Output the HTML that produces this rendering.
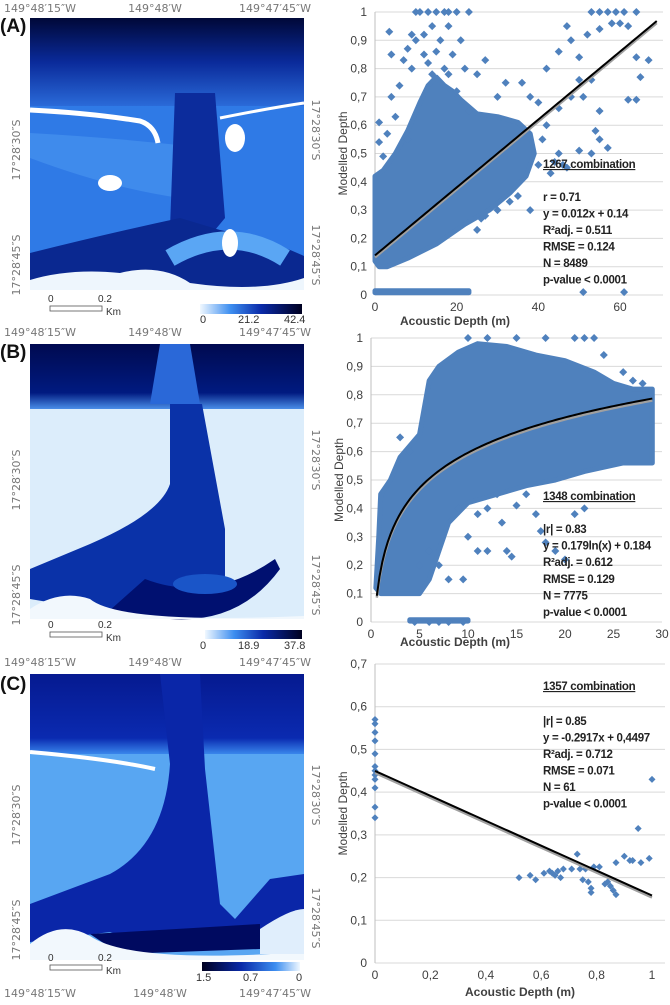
<!DOCTYPE html>
<html><head><meta charset="utf-8"><style>
html,body{margin:0;padding:0;background:#fff;}
svg text{font-family:"Liberation Sans",sans-serif;}
.tk{font-size:12px;fill:#404040;}
.st{font-size:11.5px;font-weight:bold;fill:#222;letter-spacing:-0.3px;}
.ml{font-family:"DejaVu Sans",sans-serif !important;font-size:11px;fill:#777;}
</style></head><body>
<svg id="fig" width="670" height="1000" viewBox="0 0 670 1000" xmlns="http://www.w3.org/2000/svg">
<defs>
<linearGradient id="cbA" x1="0" x2="1"><stop offset="0" stop-color="#f0f8ff"/><stop offset="0.3" stop-color="#3d8ef0"/><stop offset="0.6" stop-color="#0a2aa8"/><stop offset="1" stop-color="#000020"/></linearGradient>
<linearGradient id="cbC" x1="0" x2="1"><stop offset="0" stop-color="#000020"/><stop offset="0.4" stop-color="#0a2aa8"/><stop offset="0.75" stop-color="#3d8ef0"/><stop offset="1" stop-color="#f0f8ff"/></linearGradient>
<linearGradient id="topA" x1="0" y1="0" x2="0" y2="1"><stop offset="0" stop-color="#000838"/><stop offset="0.5" stop-color="#0a2a9a"/><stop offset="1" stop-color="#2a6ad8"/></linearGradient>
<linearGradient id="topB" x1="0" y1="0" x2="0" y2="1"><stop offset="0" stop-color="#000a50"/><stop offset="0.75" stop-color="#001a80"/><stop offset="1" stop-color="#4a8ee8"/></linearGradient>
<linearGradient id="topC" x1="0" y1="0" x2="0" y2="1"><stop offset="0" stop-color="#061a90"/><stop offset="0.8" stop-color="#0a2ab0"/><stop offset="1" stop-color="#3a86ec"/></linearGradient>
</defs>

<!-- MAP A -->
<g>
<text x="0" y="32" font-size="19" font-weight="bold" fill="#111">(A)</text>
<text class="ml" x="40" y="12" text-anchor="middle">149°48′15″W</text>
<text class="ml" x="155" y="12" text-anchor="middle">149°48′W</text>
<text class="ml" x="275" y="12" text-anchor="middle">149°47′45″W</text>
<g transform="translate(30,18)">
<rect width="274" height="272" fill="#2f7ae6"/>
<rect width="274" height="88" fill="url(#topA)"/>
<path d="M0,140 Q80,170 150,180 L175,165 L175,130 Q90,120 0,115Z" fill="#4b96f0" opacity="0.6"/>
<path d="M145,75 L185,75 L195,200 L170,230 L140,210 Z" fill="#0c2c9c"/>
<path d="M0,235 Q80,215 150,200 L190,212 Q240,222 274,238 L274,272 L0,272 Z" fill="#0a2890"/>
<path d="M140,240 Q200,205 255,240" stroke="#5aa6f4" stroke-width="18" fill="none"/>
<path d="M0,92 Q60,95 110,103 Q125,108 128,125" stroke="#fff" stroke-width="5" fill="none"/>
<path d="M190,100 Q240,90 274,85" stroke="#fff" stroke-width="3" fill="none"/>
<ellipse cx="205" cy="120" rx="10" ry="14" fill="#fff"/>
<ellipse cx="200" cy="225" rx="8" ry="14" fill="#fff"/>
<ellipse cx="80" cy="165" rx="12" ry="8" fill="#fff"/>
<path d="M0,262 Q40,250 90,255 Q130,245 160,265 Q230,275 274,260 L274,272 L0,272 Z" fill="#eef6fd"/>
</g>
<text class="ml" transform="translate(20,150) rotate(-90)" text-anchor="middle">17°28′30″S</text>
<text class="ml" transform="translate(20,265) rotate(-90)" text-anchor="middle">17°28′45″S</text>
<text class="ml" transform="translate(312,130) rotate(90)" text-anchor="middle">17°28′30″S</text>
<text class="ml" transform="translate(312,255) rotate(90)" text-anchor="middle">17°28′45″S</text>
<rect x="50" y="306" width="52" height="5" fill="none" stroke="#555" stroke-width="0.8"/>
<text x="48" y="302" font-size="10" font-family="Liberation Serif" fill="#333">0</text>
<text x="98" y="302" font-size="10" font-family="Liberation Serif" fill="#333">0.2</text>
<text x="106" y="315" font-size="10" font-family="Liberation Serif" fill="#333">Km</text>
<rect x="200" y="304" width="102" height="10" fill="url(#cbA)"/>
<text x="200" y="323" font-size="11" font-family="Liberation Serif" fill="#333">0</text>
<text x="238" y="323" font-size="11" font-family="Liberation Serif" fill="#333">21.2</text>
<text x="284" y="323" font-size="11" font-family="Liberation Serif" fill="#333">42.4</text>
</g>

<!-- MAP B -->
<g>
<text x="0" y="358" font-size="19" font-weight="bold" fill="#111">(B)</text>
<text class="ml" x="40" y="336" text-anchor="middle">149°48′15″W</text>
<text class="ml" x="155" y="336" text-anchor="middle">149°48′W</text>
<text class="ml" x="275" y="336" text-anchor="middle">149°47′45″W</text>
<g transform="translate(30,344)">
<rect width="274" height="275" fill="#dcedfb"/>
<rect width="274" height="65" fill="url(#topB)"/>
<path d="M130,0 L160,0 L170,60 L120,60 Z" fill="#2a68d8"/>
<path d="M140,60 L172,60 L195,185 L195,235 L150,255 L110,275 L60,265 L0,255 L0,225 L60,200 Q130,170 140,140 Z" fill="#0a32a8"/>
<path d="M115,235 Q180,260 245,215 L250,225 Q210,280 140,275 L70,275 Z" fill="#001070"/>
<ellipse cx="175" cy="240" rx="32" ry="10" fill="#1a55c8"/>
<path d="M0,265 Q30,245 60,255 Q90,280 274,272 L274,275 L0,275 Z" fill="#f2f8fd"/>
</g>
<text class="ml" transform="translate(20,480) rotate(-90)" text-anchor="middle">17°28′30″S</text>
<text class="ml" transform="translate(20,595) rotate(-90)" text-anchor="middle">17°28′45″S</text>
<text class="ml" transform="translate(312,460) rotate(90)" text-anchor="middle">17°28′30″S</text>
<text class="ml" transform="translate(312,585) rotate(90)" text-anchor="middle">17°28′45″S</text>
<rect x="50" y="632" width="52" height="5" fill="none" stroke="#555" stroke-width="0.8"/>
<text x="48" y="628" font-size="10" font-family="Liberation Serif" fill="#333">0</text>
<text x="98" y="628" font-size="10" font-family="Liberation Serif" fill="#333">0.2</text>
<text x="106" y="641" font-size="10" font-family="Liberation Serif" fill="#333">Km</text>
<rect x="205" y="630" width="97" height="9" fill="url(#cbA)"/>
<text x="200" y="649" font-size="11" font-family="Liberation Serif" fill="#333">0</text>
<text x="238" y="649" font-size="11" font-family="Liberation Serif" fill="#333">18.9</text>
<text x="284" y="649" font-size="11" font-family="Liberation Serif" fill="#333">37.8</text>
</g>

<!-- MAP C -->
<g>
<text x="0" y="690" font-size="19" font-weight="bold" fill="#111">(C)</text>
<text class="ml" x="40" y="666" text-anchor="middle">149°48′15″W</text>
<text class="ml" x="155" y="666" text-anchor="middle">149°48′W</text>
<text class="ml" x="275" y="666" text-anchor="middle">149°47′45″W</text>
<g transform="translate(30,674)">
<rect width="274" height="286" fill="#58a6f2"/>
<rect width="274" height="80" fill="url(#topC)"/>
<path d="M0,78 Q80,85 125,95" stroke="#fff" stroke-width="4" fill="none"/>
<path d="M130,0 L170,0 L175,95 L190,230 L205,245 L240,205 L274,200 L274,260 L200,275 L120,272 L80,258 L0,268 L0,230 L80,200 Q135,170 140,90 Z" fill="#0a26a8"/>
<path d="M60,260 Q150,255 230,250 L230,275 L90,280 Z" fill="#000a60"/>
<path d="M0,270 Q30,245 60,262 Q100,290 274,278 L274,286 L0,286 Z" fill="#f2f8fd"/>
<path d="M230,255 Q260,235 274,235 L274,280 L230,280Z" fill="#e0eefc"/>
</g>
<text class="ml" transform="translate(20,815) rotate(-90)" text-anchor="middle">17°28′30″S</text>
<text class="ml" transform="translate(20,930) rotate(-90)" text-anchor="middle">17°28′45″S</text>
<text class="ml" transform="translate(312,795) rotate(90)" text-anchor="middle">17°28′30″S</text>
<text class="ml" transform="translate(312,918) rotate(90)" text-anchor="middle">17°28′45″S</text>
<rect x="50" y="965" width="52" height="5" fill="none" stroke="#555" stroke-width="0.8"/>
<text x="48" y="961" font-size="10" font-family="Liberation Serif" fill="#333">0</text>
<text x="98" y="961" font-size="10" font-family="Liberation Serif" fill="#333">0.2</text>
<text x="106" y="974" font-size="10" font-family="Liberation Serif" fill="#333">Km</text>
<rect x="202" y="962" width="98" height="9" fill="url(#cbC)"/>
<text x="196" y="981" font-size="11" font-family="Liberation Serif" fill="#333">1.5</text>
<text x="243" y="981" font-size="11" font-family="Liberation Serif" fill="#333">0.7</text>
<text x="296" y="981" font-size="11" font-family="Liberation Serif" fill="#333">0</text>
<text class="ml" x="40" y="997" text-anchor="middle">149°48′15″W</text>
<text class="ml" x="160" y="997" text-anchor="middle">149°48′W</text>
<text class="ml" x="275" y="997" text-anchor="middle">149°47′45″W</text>
</g>
<g id="charts"></g>
</svg>
<script>
// ---- Chart A data ----
const yTicksA = [0,0.1,0.2,0.3,0.4,0.5,0.6,0.7,0.8,0.9,1];
const xTicksA = [0,20,40,60];
const cloudA = [[0,0.12],[0,0.42],[2,0.44],[5,0.5],[8,0.58],[11,0.68],[13,0.74],[15,0.77],[17,0.74],[19,0.72],[21,0.69],[25,0.64],[30,0.63],[35,0.61],[38,0.57],[39,0.5],[37,0.42],[33,0.36],[28,0.3],[22,0.25],[15,0.18],[8,0.13],[3,0.1],[1,0.1]];
const bandA = [[0,0.008],[0,0.015],[23,0.015],[23,0.008]];
const pointsA = [[3.5,0.93],[4,0.85],[4,0.7],[6,0.74],[8,0.87],[9,0.92],[10,1],[11,1],[13,1],[15,1],[17,1],[18,1],[20,1],[23,1],[12,0.92],[14,0.95],[16,0.9],[18,0.95],[19,0.85],[21,0.9],[22,0.8],[27,0.83],[13,0.82],[15,0.86],[17,0.8],[14,0.78],[18,0.78],[20,0.72],[23,0.65],[42,0.8],[45,0.86],[47,0.95],[48,0.9],[50,0.84],[52,0.92],[53,1],[55,1],[57,1],[59,1],[61,1],[64,1],[55,0.94],[58,0.96],[60,0.96],[62,0.95],[64,0.84],[67,0.83],[65,0.77],[62,0.69],[64,0.69],[55,0.65],[54,0.58],[55,0.55],[57,0.52],[53,0.5],[50,0.51],[45,0.5],[46,0.46],[47,0.45],[44,0.47],[43,0.43],[40,0.46],[41,0.55],[42,0.6],[45,0.66],[48,0.7],[50,0.76],[51,0.7],[53,0.76],[38,0.3],[35,0.35],[33,0.33],[30,0.3],[27,0.28],[25,0.23],[26,0.27],[51,0.01],[61,0.01],[1,0.61],[1,0.54],[3,0.57],[2,0.49],[5,0.63],[8,0.55],[9,0.8],[12,0.85],[10,0.9],[7,0.83],[25,0.78],[30,0.7],[32,0.75],[36,0.75],[38,0.7],[40,0.68]];
const statsA = ["r = 0.71","y = 0.012x + 0.14","R²adj. = 0.511","RMSE = 0.124","N = 8489","p-value < 0.0001"];
// ---- Chart B data ----
const yTicksB = [0,0.1,0.2,0.3,0.4,0.5,0.6,0.7,0.8,0.9,1];
const xTicksB = [0,5,10,15,20,25,30];
const cloudB = [[0.5,0.12],[0.8,0.3],[1,0.45],[2,0.5],[3,0.58],[5,0.66],[6,0.85],[7,0.9],[9,0.95],[11,0.98],[14,0.97],[17,0.94],[20,0.92],[23,0.88],[25,0.84],[27,0.82],[29,0.82],[29,0.56],[26,0.56],[22,0.53],[19,0.5],[16,0.48],[13,0.45],[10,0.42],[8,0.35],[7,0.25],[6,0.15],[5,0.1],[3,0.1],[1,0.1]];
const bandB = [[4,0.003],[4,0.008],[10,0.008],[10,0.003]];
const pointsB = [[4,0.6],[3,0.65],[5,0.2],[6,0.25],[7,0.2],[8,0.15],[9.5,0.15],[10,0.3],[11,0.25],[12,0.25],[9,0.4],[11,0.38],[12,0.4],[13,0.45],[13.5,0.35],[14,0.25],[14.5,0.23],[15,0.41],[16,0.45],[17,0.38],[17.5,0.32],[18,0.28],[19,0.25],[20,0.22],[21,0.38],[22,0.4],[10,1],[12,1],[15,1],[18,1],[21,1],[22,1],[23,1],[24,0.94],[26,0.88],[27,0.85],[28,0.84],[4.5,0],[6,0],[7,0],[8,0],[9.5,0]];
const statsB = ["|r| = 0.83","y = 0.179ln(x) + 0.184","R²adj. = 0.612","RMSE = 0.129","N = 7775","p-value < 0.0001"];
// ---- Chart C data ----
const yTicksC = [0,0.1,0.2,0.3,0.4,0.5,0.6,0.7];
const xTicksC = [0,0.2,0.4,0.6,0.8,1];
const pointsC = [[0,0.57],[0,0.56],[0,0.54],[0,0.52],[0,0.49],[0,0.46],[0,0.45],[0,0.44],[0,0.43],[0,0.41],[0,0.365],[0,0.34],[0.52,0.2],[0.56,0.205],[0.58,0.195],[0.61,0.21],[0.63,0.215],[0.64,0.21],[0.65,0.205],[0.66,0.215],[0.67,0.2],[0.68,0.22],[0.71,0.22],[0.73,0.255],[0.74,0.22],[0.75,0.195],[0.76,0.22],[0.77,0.19],[0.78,0.175],[0.78,0.165],[0.79,0.225],[0.81,0.225],[0.83,0.185],[0.84,0.19],[0.85,0.18],[0.86,0.17],[0.87,0.16],[0.87,0.235],[0.9,0.25],[0.92,0.24],[0.93,0.24],[0.95,0.315],[0.96,0.235],[0.99,0.245],[1,0.43]];
const statsC = ["|r| = 0.85","y = -0.2917x + 0,4497","R²adj. = 0.712","RMSE = 0.071","N = 61","p-value < 0.0001"];

const NS="http://www.w3.org/2000/svg";
const root=document.getElementById('charts');
function mk(tag,attrs,parent){const e=document.createElementNS(NS,tag);for(const k in attrs)e.setAttribute(k,attrs[k]);(parent||root).appendChild(e);return e;}
function fmt(v){return String(Math.round(v*10)/10).replace('.',',');}

function chart(cfg){
  const g=mk('g',{});
  
  
  const sx=v=>cfg.x0+(v-cfg.xmin)/(cfg.xmax-cfg.xmin)*(cfg.x1-cfg.x0);
  const sy=v=>cfg.y0-(v-cfg.ymin)/(cfg.ymax-cfg.ymin)*(cfg.y0-cfg.y1);
  cfg.yTicks.forEach(t=>{
    const l=mk('line',{x1:cfg.x0,x2:cfg.right,y1:sy(t),y2:sy(t),stroke:'#d9d9d9','stroke-width':1},g);
    
    
    const tx=mk('text',{x:cfg.x0-8,y:sy(t)+4,'text-anchor':'end',class:'tk'},g);
    tx.textContent=fmt(t);
    
    
  });
  mk('line',{x1:cfg.x0,x2:cfg.x0,y1:cfg.y1,y2:cfg.y0,stroke:'#bfbfbf'},g);
  cfg.xTicks.forEach(t=>{
    const tx=mk('text',{x:sx(t),y:cfg.y0+16,'text-anchor':'middle',class:'tk'},g);
    tx.textContent=fmt(t);
    
    
  });
  (cfg.polys||[]).forEach(p=>{
    const pg=mk('polygon',{points:p.map(q=>sx(q[0])+','+sy(q[1])).join(' '),fill:'#4f81bd',stroke:'#4f81bd','stroke-width':5,'stroke-linejoin':'round'},g);
    
    
  });
  const s=cfg.ds;
  cfg.points.forEach(p=>{
    const x=sx(p[0]),y=sy(p[1]);
    const d=mk('path',{d:`M${x},${y-s}L${x+s},${y}L${x},${y+s}L${x-s},${y}Z`,fill:'#4f81bd'},g);
    
    
  });
  let pts=[];
  for(let i=0;i<=100;i++){const x=cfg.fx0+(cfg.fx1-cfg.fx0)*i/100;pts.push([sx(x),sy(cfg.fit(x))]);}
  mk('polyline',{points:pts.map(p=>p[0]+','+(p[1]+2)).join(' '),fill:'none',stroke:'#a0a0a0','stroke-width':2.5},g);
  const fl=mk('polyline',{points:pts.map(p=>p.join(',')).join(' '),fill:'none',stroke:'#000','stroke-width':2},g);
  
  
  const yl=mk('text',{transform:`translate(${cfg.x0-28},${(cfg.y0+cfg.y1)/2}) rotate(-90)`,'text-anchor':'middle','font-size':12,fill:'#404040'},g);
  yl.textContent='Modelled Depth';
  
  
  const xl=mk('text',{x:cfg.xlx,y:cfg.xly,'text-anchor':'middle','font-size':12,'font-weight':'bold',fill:'#404040'},g);
  xl.textContent='Acoustic Depth (m)';
  
  
  const tt=mk('text',{x:cfg.sx,y:cfg.ty,class:'st','text-decoration':'underline'},g);
  tt.textContent=cfg.title;
  
  
  cfg.stats.forEach((t,i)=>{
    const st=mk('text',{x:cfg.sx,y:cfg.sy0+i*cfg.sdy,class:'st'},g);
    st.textContent=t;
    
    
  });
}
chart({name:'scatter-a',x0:375,x1:620,xmin:0,xmax:60,y0:295,y1:12,ymin:0,ymax:1,right:663,yTicks:yTicksA,xTicks:xTicksA,polys:[cloudA,bandA],points:pointsA,ds:4,fit:x=>0.012*x+0.14,fx0:0,fx1:69,xlx:455,xly:325,title:'1267 combination',sx:543,ty:168,stats:statsA,sy0:201,sdy:16.5});
chart({name:'scatter-b',x0:371,x1:662,xmin:0,xmax:30,y0:622,y1:338,ymin:0,ymax:1,right:662,yTicks:yTicksB,xTicks:xTicksB,polys:[cloudB,bandB],points:pointsB,ds:4,fit:x=>0.179*Math.log(x)+0.184,fx0:0.6,fx1:29,xlx:455,xly:646,title:'1348 combination',sx:543,ty:500,stats:statsB,sy0:533,sdy:16.6});
chart({name:'scatter-c',x0:375,x1:652,xmin:0,xmax:1,y0:963,y1:664,ymin:0,ymax:0.7,right:665,yTicks:yTicksC,xTicks:xTicksC,polys:[],points:pointsC,ds:3.5,fit:x=>-0.2917*x+0.4497,fx0:0,fx1:1,xlx:520,xly:996,title:'1357 combination',sx:543,ty:690,stats:statsC,sy0:725,sdy:16.5});
</script>
</body></html>
